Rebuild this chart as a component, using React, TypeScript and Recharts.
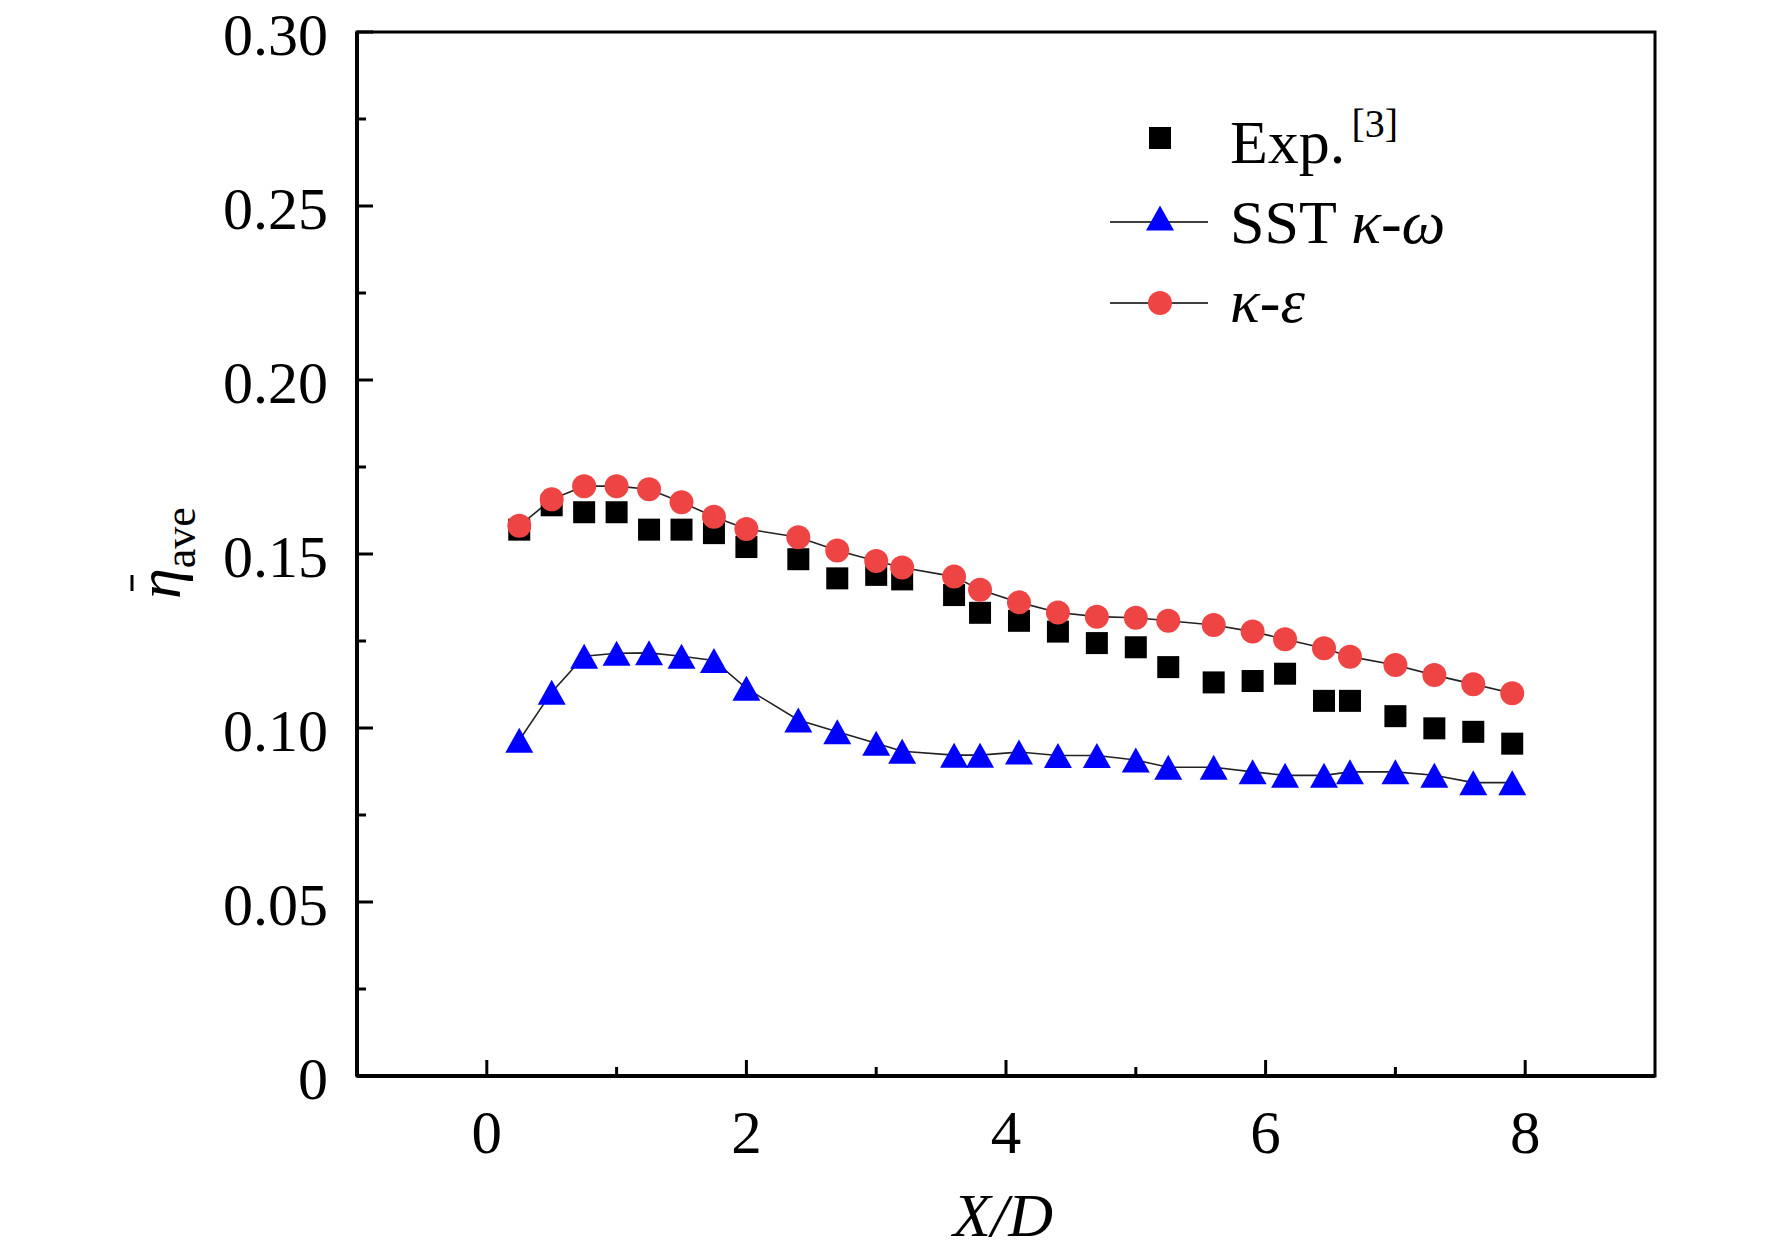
import React from 'react';
import { ComposedChart, Line, Scatter, XAxis, YAxis, ReferenceArea, Legend } from 'recharts';

const FONT = '"Liberation Serif", "Times New Roman", serif';

// X/D positions shared by all three series
const xValues = [0.25, 0.5, 0.75, 1.0, 1.25, 1.5, 1.75, 2.0, 2.4, 2.7, 3.0, 3.2, 3.6, 3.8, 4.1, 4.4, 4.7, 5.0, 5.25, 5.6, 5.9, 6.15, 6.45, 6.65, 7.0, 7.3, 7.6, 7.9];

const expValues = [0.157, 0.164, 0.162, 0.162, 0.157, 0.157, 0.156, 0.152, 0.1485, 0.143, 0.144, 0.1427, 0.1382, 0.1331, 0.1308, 0.1277, 0.1244, 0.1232, 0.1175, 0.1131, 0.1135, 0.1156, 0.1078, 0.1078, 0.1034, 0.0999, 0.0989, 0.0955];

const sstValues = [0.0965, 0.1103, 0.1206, 0.1215, 0.1216, 0.1206, 0.1194, 0.1114, 0.1023, 0.0989, 0.0956, 0.0933, 0.0922, 0.0922, 0.0931, 0.0921, 0.0921, 0.0908, 0.0887, 0.0887, 0.0874, 0.0864, 0.0864, 0.0874, 0.0874, 0.0864, 0.0843, 0.0843];

const keValues = [0.1581, 0.1657, 0.1695, 0.1695, 0.1686, 0.1649, 0.1607, 0.1572, 0.1548, 0.151, 0.148, 0.1461, 0.1435, 0.1397, 0.1361, 0.1332, 0.132, 0.1317, 0.1308, 0.1296, 0.1277, 0.1255, 0.1229, 0.1205, 0.1181, 0.1152, 0.1126, 0.11];

const xTicks = [0, 1, 2, 3, 4, 5, 6, 7, 8];
const xTickLabels = ['0', '', '2', '', '4', '', '6', '', '8'];

const yTicks = [0, 0.025, 0.05, 0.075, 0.1, 0.125, 0.15, 0.175, 0.2, 0.225, 0.25, 0.275, 0.3];
const yTickLabels = ['0', '', '0.05', '', '0.10', '', '0.15', '', '0.20', '', '0.25', '', '0.30'];

const data = xValues.map((x, i) => ({ x, exp: expValues[i], sst: sstValues[i], ke: keValues[i] }));

const RED = '#ef4444';
const BLUE = '#0000ff';

const XTick = (props: any) => {
  const { x, y, index } = props;
  const label = xTickLabels[index];
  const len = label ? 16 : 9;
  return (
    <g>
      <line x1={x} x2={x} y1={y} y2={y - len} stroke="#000" strokeWidth={3} />
      {label && (
        <text x={x} y={y + 77} textAnchor="middle" fontSize={61} fontFamily={FONT} fill="#000">
          {label}
        </text>
      )}
    </g>
  );
};

const YTick = (props: any) => {
  const { x, y, index } = props;
  const label = yTickLabels[index];
  const len = label ? 16 : 9;
  return (
    <g>
      <line x1={x} x2={x + len} y1={y} y2={y} stroke="#000" strokeWidth={3} />
      {label && (
        <text x={x - 29} y={y + 23} textAnchor="end" fontSize={60} fontFamily={FONT} fill="#000">
          {label}
        </text>
      )}
    </g>
  );
};

const Square = (p: any) => <rect x={p.cx - 11} y={p.cy - 11} width={22} height={22} fill="#000" />;

const Triangle = (p: any) => {
  if (p.cx == null) return null;
  const { cx, cy } = p;
  return (
    <path
      key={`tri-${p.index}`}
      d={`M${cx},${cy - 12.5}L${cx + 14},${cy + 12.5}L${cx - 14},${cy + 12.5}Z`}
      fill={BLUE}
    />
  );
};

const Dot = (p: any) => {
  if (p.cx == null) return null;
  return <circle key={`dot-${p.index}`} cx={p.cx} cy={p.cy} r={12} fill={RED} />;
};

const LegendBox = () => (
  <svg width={420} height={260} style={{ overflow: 'visible' }}>
    <rect x={49} y={37} width={22} height={22} fill="#000" />
    <text x={130} y={73} fontSize={62} fontFamily={FONT}>
      Exp.
      <tspan fontSize={40} dy={-26} dx={6}>[3]</tspan>
    </text>

    <line x1={10} x2={108} y1={132} y2={132} stroke="#000" strokeWidth={1.6} />
    <path d="M60,115.5L74,140.5L46,140.5Z" fill={BLUE} />
    <text x={130} y={153} fontSize={62} fontFamily={FONT}>
      SST <tspan fontStyle="italic">κ-ω</tspan>
    </text>

    <line x1={10} x2={108} y1={213} y2={213} stroke="#000" strokeWidth={1.6} />
    <circle cx={60} cy={213} r={12} fill={RED} />
    <text x={130} y={232} fontSize={62} fontFamily={FONT} fontStyle="italic">
      κ-ε
    </text>
  </svg>
);

// rotated y-axis title: η with an overbar and "ave" subscript
const YTitle = () => {
  const X0 = 180;
  const Y0 = 554;
  return (
    <g transform={`rotate(-90, ${X0}, ${Y0})`}>
      <line x1={X0 - 37} x2={X0 - 21} y1={Y0 - 48} y2={Y0 - 48} stroke="#000" strokeWidth={3} />
      <text x={X0 - 45} y={Y0} fontFamily={FONT} fill="#000">
        <tspan fontSize={62} fontStyle="italic">η</tspan>
        <tspan fontSize={44} dy={15}>ave</tspan>
      </text>
    </g>
  );
};

export default function App() {
  return (
    <div style={{ width: 1772, height: 1255, background: '#fff' }}>
      <style>{'body{margin:0}'}</style>
      <ComposedChart
        width={1772}
        height={1255}
        data={data}
        margin={{ top: 32, right: 117, bottom: 0, left: 0 }}
      >
        <ReferenceArea x1={-1} x2={9} y1={0} y2={0.3} fill="none" stroke="#000" strokeWidth={3} />
        <XAxis
          type="number"
          dataKey="x"
          domain={[-1, 9]}
          ticks={xTicks}
          interval={0}
          tickSize={0}
          tickMargin={0}
          tickLine={false}
          tick={<XTick />}
          height={179}
          axisLine={{ stroke: '#000', strokeWidth: 4 }}
          allowDataOverflow
          label={(props: any) => {
            const vb = props.viewBox;
            return (
              <text x={vb.x + vb.width / 2 - 3} y={vb.y + 160} textAnchor="middle" fontSize={62} fontFamily={FONT} fontStyle="italic">
                X/D
              </text>
            );
          }}
        />
        <YAxis
          type="number"
          domain={[0, 0.3]}
          ticks={yTicks}
          interval={0}
          tickSize={0}
          tickMargin={0}
          tickLine={false}
          tick={<YTick />}
          width={357}
          axisLine={{ stroke: '#000', strokeWidth: 4 }}
          allowDataOverflow
          label={() => <YTitle />}
        />
        <Scatter dataKey="exp" name="Exp." shape={Square} isAnimationActive={false} />
        <Line
          dataKey="sst"
          name="SST κ-ω"
          stroke="#222"
          strokeWidth={1.6}
          dot={Triangle}
          activeDot={false}
          isAnimationActive={false}
        />
        <Line
          dataKey="ke"
          name="κ-ε"
          stroke="#222"
          strokeWidth={1.6}
          dot={Dot}
          activeDot={false}
          isAnimationActive={false}
        />
        <Legend
          layout="vertical"
          align="center"
          verticalAlign="middle"
          content={() => <LegendBox />}
          wrapperStyle={{ position: 'absolute', left: 1100, top: 90, width: 420, height: 260 }}
        />
      </ComposedChart>
    </div>
  );
}
